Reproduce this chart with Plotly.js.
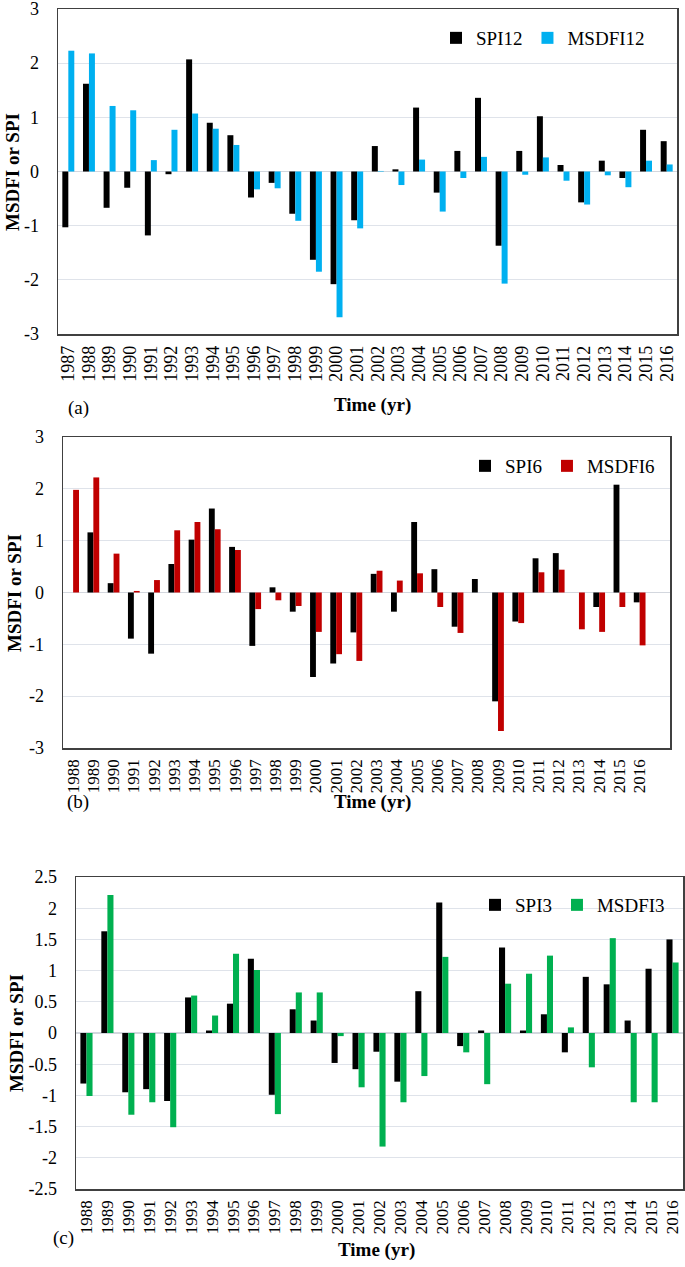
<!DOCTYPE html>
<html>
<head>
<meta charset="utf-8">
<script src="https://cdn.plot.ly/plotly-3.0.1.min.js"></script>
<style>
  html, body { margin: 0; padding: 0; background: #fff; }
  #chart { width: 685px; height: 1267px; }
</style>
</head>
<body>
<div id="chart"></div>
<script>
// panel (a) - 12 month indices
const yearsA = ['1987','1988','1989','1990','1991','1992','1993','1994','1995','1996',
  '1997','1998','1999','2000','2001','2002','2003','2004','2005','2006',
  '2007','2008','2009','2010','2011','2012','2013','2014','2015','2016'];
const spi12 = [-1.03, 1.62, -0.67, -0.30, -1.18, -0.05, 2.07, 0.90, 0.67, -0.48,
  -0.21, -0.78, -1.63, -2.08, -0.90, 0.47, 0.04, 1.18, -0.39, 0.38,
  1.36, -1.37, 0.38, 1.02, 0.12, -0.57, 0.20, -0.12, 0.77, 0.56];
const msdfi12 = [2.23, 2.18, 1.21, 1.13, 0.21, 0.77, 1.07, 0.79, 0.49, -0.33,
  -0.31, -0.91, -1.85, -2.69, -1.05, 0.01, -0.25, 0.22, -0.74, -0.12,
  0.27, -2.07, -0.06, 0.26, -0.17, -0.61, -0.07, -0.29, 0.20, 0.13];

// panel (b) - 6 month indices
const yearsB = ['1988','1989','1990','1991','1992','1993','1994','1995','1996','1997',
  '1998','1999','2000','2001','2002','2003','2004','2005','2006','2007',
  '2008','2009','2010','2011','2012','2013','2014','2015','2016'];
const spi6 = [0, 1.16, 0.18, -0.89, -1.18, 0.55, 1.02, 1.62, 0.88, -1.03,
  0.10, -0.37, -1.63, -1.37, -0.77, 0.36, -0.37, 1.36, 0.45, -0.66,
  0.26, -2.10, -0.56, 0.66, 0.76, 0, -0.28, 2.08, -0.19];
const msdfi6 = [1.98, 2.22, 0.75, 0.03, 0.24, 1.20, 1.36, 1.22, 0.82, -0.32,
  -0.15, -0.26, -0.76, -1.19, -1.32, 0.42, 0.23, 0.37, -0.28, -0.78,
  0, -2.67, -0.59, 0.39, 0.44, -0.71, -0.76, -0.28, -1.02];

// panel (c) - 3 month indices
const yearsC = yearsB;
const spi3 = [-0.81, 1.63, -0.95, -0.90, -1.09, 0.57, 0.04, 0.47, 1.19, -0.99,
  0.38, 0.20, -0.48, -0.58, -0.30, -0.78, 0.67, 2.09, -0.21, 0.04,
  1.37, 0.04, 0.30, -0.31, 0.90, 0.78, 0.20, 1.03, 1.50];
const msdfi3 = [-1.01, 2.21, -1.31, -1.11, -1.51, 0.60, 0.28, 1.27, 1.01, -1.30,
  0.65, 0.65, -0.05, -0.87, -1.82, -1.11, -0.69, 1.22, -0.31, -0.82,
  0.79, 0.95, 1.24, 0.09, -0.55, 1.52, -1.11, -1.11, 1.13];

const ticksAB = [-3, -2, -1, 0, 1, 2, 3];
const ticksC = [-2.5, -2, -1.5, -1, -0.5, 0, 0.5, 1, 1.5, 2, 2.5];

const FONT = '"Liberation Serif", "Times New Roman", Times, serif';
const W = 685, H = 1267;

// pixel helpers -> paper fractions
const px = v => v / W;
const py = v => 1 - v / H;

function makeX(left, right, anchor, cats, nSlots, fs) {
  return {
    domain: [px(left), px(right)],
    anchor: anchor,
    type: 'category',
    range: [-0.5, nSlots - 0.5],
    tickmode: 'array',
    tickvals: cats,
    ticktext: cats,
    tickangle: -90,
    tickfont: { family: FONT, size: fs, color: '#000' },
    ticks: 'outside',
    ticklen: 3,
    tickcolor: 'rgba(0,0,0,0)',
    showgrid: false,
    zeroline: false,
    showline: true,
    mirror: true,
    linecolor: '#404040',
    linewidth: 1.5,
    automargin: false
  };
}

// small grey category ticks hanging under the zero line
function zeroTicks(base, cats, nSlots, zeroPx) {
  return {
    overlaying: base,
    anchor: 'free',
    position: py(zeroPx),
    type: 'category',
    range: [-0.5, nSlots - 0.5],
    tickmode: 'array',
    tickvals: cats,
    tickson: 'boundaries',
    ticks: 'outside',
    ticklen: 5,
    tickwidth: 1,
    tickcolor: '#c9ced6',
    showticklabels: false,
    showline: false,
    showgrid: false,
    zeroline: false
  };
}

function makeY(top, bottom, anchor, range, vals) {
  return {
    domain: [py(bottom), py(top)],
    anchor: anchor,
    range: range,
    tickmode: 'array',
    tickvals: vals,
    ticktext: vals.map(v => String(v)),
    tickfont: { family: FONT, size: 18, color: '#000' },
    ticklabeloverflow: 'allow',
    ticks: 'outside',
    ticklen: 14,
    tickcolor: 'rgba(0,0,0,0)',
    showgrid: true,
    gridcolor: '#dfe3ea',
    gridwidth: 1.2,
    zeroline: true,
    zerolinecolor: '#d3d7de',
    zerolinewidth: 1.5,
    showline: true,
    mirror: true,
    linecolor: '#404040',
    linewidth: 1.5,
    automargin: false
  };
}

function bar(x, y, name, color, xa, ya, legend) {
  return {
    type: 'bar', x: x, y: y, name: name,
    xaxis: xa, yaxis: ya, legend: legend,
    marker: { color: color, line: { width: 0 } },
    hoverinfo: 'x+y+name'
  };
}

const data = [
  bar(yearsA, spi12, 'SPI12', '#000000', 'x', 'y', 'legend'),
  bar(yearsA, msdfi12, 'MSDFI12', '#00b0f0', 'x', 'y', 'legend'),
  bar(yearsB, spi6, 'SPI6', '#000000', 'x2', 'y2', 'legend2'),
  bar(yearsB, msdfi6, 'MSDFI6', '#c00000', 'x2', 'y2', 'legend2'),
  bar(yearsC, spi3, 'SPI3', '#000000', 'x3', 'y3', 'legend3'),
  bar(yearsC, msdfi3, 'MSDFI3', '#00b050', 'x3', 'y3', 'legend3')
];

function legendAt(xRight, yMid) {
  return {
    orientation: 'h',
    x: px(xRight), xanchor: 'right',
    y: py(yMid), yanchor: 'middle',
    font: { family: FONT, size: 19, color: '#000' },
    bgcolor: 'rgba(0,0,0,0)',
    borderwidth: 0,
    itemwidth: 30,
    traceorder: 'normal'
  };
}

function label(text, x, y, bold, angle) {
  return {
    text: bold ? '<b>' + text + '</b>' : text,
    xref: 'paper', yref: 'paper',
    x: px(x), y: py(y),
    xanchor: 'center', yanchor: 'middle',
    textangle: angle || 0,
    showarrow: false,
    font: { family: FONT, size: 19, color: '#000' }
  };
}

const layout = {
  width: W,
  height: H,
  margin: { l: 0, r: 0, t: 0, b: 0 },
  paper_bgcolor: '#fff',
  plot_bgcolor: '#fff',
  font: { family: FONT, size: 18, color: '#000' },
  barmode: 'group',
  bargap: 0.42,
  bargroupgap: 0,
  showlegend: true,
  xaxis: makeX(58, 677, 'y', yearsA, 30, 18),
  yaxis: makeY(9, 334, 'x', [-3, 3], ticksAB),
  xaxis2: makeX(63, 670, 'y2', yearsB, 30, 17),
  yaxis2: makeY(437, 748, 'x2', [-3, 3], ticksAB),
  xaxis3: makeX(76, 683, 'y3', yearsC, 29, 17),
  yaxis3: makeY(877, 1189, 'x3', [-2.5, 2.5], ticksC),
  xaxis4: zeroTicks('x', yearsA, 30, 171.5),
  xaxis5: zeroTicks('x2', yearsB, 30, 592.5),
  xaxis6: zeroTicks('x3', yearsC, 29, 1033),
  legend: legendAt(650, 38),
  legend2: legendAt(660, 466),
  legend3: legendAt(670, 905),
  annotations: [
    label('MSDFI or SPI', 12, 172, true, -90),
    label('MSDFI or SPI', 14, 593, true, -90),
    label('MSDFI or SPI', 16, 1033, true, -90),
    label('Time (yr)', 372, 405, true),
    label('Time (yr)', 372, 802, true),
    label('Time (yr)', 376, 1250, true),
    label('(a)', 78, 408, false),
    label('(b)', 78, 802, false),
    label('(c)', 64, 1238, false)
  ]
};

Plotly.newPlot('chart', data, layout, { staticPlot: true, displayModeBar: false });
</script>
</body>
</html>
